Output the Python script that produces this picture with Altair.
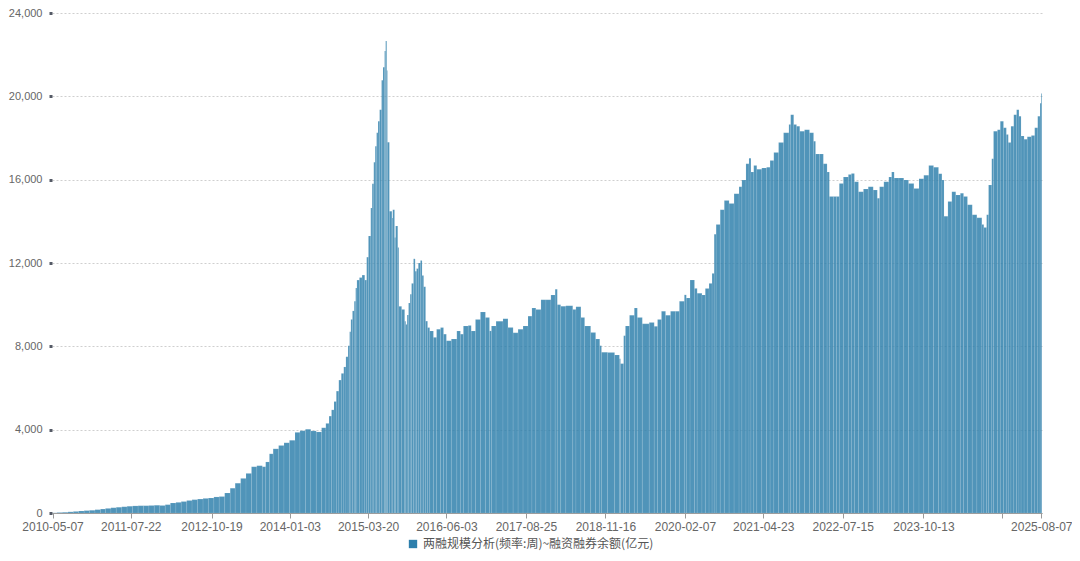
import altair as alt
import pandas as pd

# weekly margin balance (亿元); dates are the start of each bar
dates = [
    "2010-05-07", "2010-06-01", "2010-07-01", "2010-08-01", "2010-09-01", "2010-10-01",
    "2010-11-01", "2010-12-01", "2011-01-01", "2011-02-01", "2011-03-01", "2011-04-01",
    "2011-05-01", "2011-06-01", "2011-07-01", "2011-08-01", "2011-09-01", "2011-10-01",
    "2011-11-01", "2011-12-01", "2012-01-01", "2012-02-01", "2012-03-01", "2012-04-01",
    "2012-05-01", "2012-06-01", "2012-07-01", "2012-08-01", "2012-09-01", "2012-10-01",
    "2012-11-01", "2012-12-01", "2013-01-01", "2013-02-01", "2013-03-01", "2013-04-01",
    "2013-05-01", "2013-06-01", "2013-07-01", "2013-08-01", "2013-08-20", "2013-09-10",
    "2013-10-01", "2013-11-01", "2013-12-01", "2014-01-01", "2014-02-01", "2014-03-01",
    "2014-04-01", "2014-05-01", "2014-06-01", "2014-07-01", "2014-07-25", "2014-08-12",
    "2014-08-26", "2014-09-09", "2014-09-22", "2014-10-06", "2014-10-20", "2014-11-03",
    "2014-11-15", "2014-11-27", "2014-12-06", "2014-12-13", "2014-12-22", "2015-01-01",
    "2015-01-09", "2015-01-16", "2015-01-30", "2015-02-14", "2015-03-01", "2015-03-12",
    "2015-03-22", "2015-04-04", "2015-04-12", "2015-04-21", "2015-04-29", "2015-05-07",
    "2015-05-15", "2015-05-24", "2015-06-04", "2015-06-12", "2015-06-21", "2015-06-27",
    "2015-07-03", "2015-07-07", "2015-07-18", "2015-08-01", "2015-08-06", "2015-08-16",
    "2015-08-22", "2015-09-03", "2015-09-09", "2015-09-25", "2015-10-12", "2015-10-18",
    "2015-10-26", "2015-11-03", "2015-11-12", "2015-11-20", "2015-12-01", "2015-12-10",
    "2015-12-18", "2015-12-28", "2016-01-09", "2016-01-18", "2016-01-27", "2016-02-07",
    "2016-02-18", "2016-03-01", "2016-03-22", "2016-04-09", "2016-05-01", "2016-05-18",
    "2016-06-03", "2016-07-01", "2016-08-01", "2016-08-21", "2016-09-07", "2016-10-04",
    "2016-10-21", "2016-11-14", "2016-12-12", "2017-01-09", "2017-02-01", "2017-02-12",
    "2017-03-10", "2017-04-18", "2017-05-16", "2017-06-14", "2017-07-12", "2017-08-09",
    "2017-09-06", "2017-09-28", "2017-10-20", "2017-11-18", "2017-12-16", "2018-01-13",
    "2018-02-06", "2018-02-18", "2018-03-09", "2018-04-07", "2018-05-16", "2018-06-03",
    "2018-07-01", "2018-07-22", "2018-08-25", "2018-09-22", "2018-10-15", "2018-10-25",
    "2018-11-28", "2019-01-07", "2019-02-03", "2019-02-09", "2019-02-27", "2019-03-09",
    "2019-04-01", "2019-04-28", "2019-05-15", "2019-06-12", "2019-07-21", "2019-08-18",
    "2019-09-06", "2019-09-28", "2019-10-21", "2019-11-18", "2019-12-16", "2020-01-07",
    "2020-02-04", "2020-02-15", "2020-03-07", "2020-04-01", "2020-04-16", "2020-05-13",
    "2020-06-01", "2020-06-22", "2020-07-09", "2020-07-21", "2020-08-01", "2020-08-24",
    "2020-09-16", "2020-10-13", "2020-11-10", "2020-12-08", "2020-12-24", "2021-01-16",
    "2021-02-02", "2021-02-13", "2021-03-01", "2021-03-18", "2021-04-15", "2021-05-12",
    "2021-06-01", "2021-06-22", "2021-07-19", "2021-08-16", "2021-09-15", "2021-09-25",
    "2021-10-12", "2021-10-28", "2021-11-15", "2021-12-12", "2022-01-09", "2022-02-01",
    "2022-02-12", "2022-03-06", "2022-03-28", "2022-04-18", "2022-05-01", "2022-05-24",
    "2022-06-10", "2022-06-26", "2022-07-19", "2022-08-16", "2022-09-02", "2022-09-19",
    "2022-10-12", "2022-11-09", "2022-12-06", "2023-01-03", "2023-01-26", "2023-02-08",
    "2023-03-04", "2023-04-01", "2023-04-17", "2023-05-01", "2023-05-28", "2023-06-24",
    "2023-07-21", "2023-08-20", "2023-09-18", "2023-10-15", "2023-11-12", "2023-12-09",
    "2024-01-06", "2024-01-25", "2024-02-06", "2024-02-28", "2024-03-21", "2024-04-12",
    "2024-05-08", "2024-05-26", "2024-06-17", "2024-07-14", "2024-08-09", "2024-09-06",
    "2024-09-17", "2024-10-03", "2024-10-14", "2024-11-01", "2024-11-11", "2024-12-03",
    "2024-12-19", "2025-01-06", "2025-01-22", "2025-02-02", "2025-02-17", "2025-03-05",
    "2025-03-21", "2025-04-03", "2025-04-15", "2025-05-02", "2025-05-20", "2025-06-12",
    "2025-07-01", "2025-07-18", "2025-07-31", "2025-08-07",
]

balance = [
    8, 20, 35, 55, 75, 95,
    115, 130, 160, 190, 220, 250,
    280, 300, 320, 340, 350, 350,
    360, 370, 360, 400, 480, 510,
    550, 600, 640, 670, 700, 720,
    770, 790, 960, 1190, 1430, 1660,
    1900, 2220, 2270, 2220, 2450, 2840,
    3080, 3240, 3370, 3490, 3870, 3950,
    4020, 3940, 3890, 4090, 4300, 4650,
    4950, 5350, 5850, 6380, 6700, 7010,
    7500, 8030, 8700, 9290, 9700, 10160,
    10800, 11180, 11300, 11420, 11180, 12280,
    13300, 14640, 15800, 16840, 17600, 18250,
    18800, 19360, 20770, 21400, 22180, 22660,
    21240, 17800, 14480, 14160, 14560, 13230,
    13780, 12750, 9920, 9770, 9210, 9050,
    9500, 10080, 10500, 11020, 12200, 11600,
    11730, 12000, 12120, 11400, 10860, 9210,
    8900, 8740, 8430, 8820, 8900, 8585,
    8270, 8350, 8740, 8585, 8980, 9000,
    8740, 9290, 9650, 9380, 8740, 8980,
    9210, 9330, 8900, 8650, 8820, 8980,
    9450, 9840, 9770, 10240, 10240, 10470,
    10740, 10000, 9920, 9950, 9770, 9900,
    9380, 8980, 8660, 8350, 8030, 7720,
    7700, 7590, 7400, 7170, 8510, 8980,
    9490, 9840, 9380, 9080, 9140, 8960,
    9290, 9680, 9490, 9680, 9680, 10160,
    10470, 10320, 11180, 10780, 10550, 10470,
    10780, 11020, 11500, 13380, 13850, 14560,
    15000, 14860, 15330, 15660, 15980, 16760,
    17030, 16370, 16680, 16500, 16560, 16600,
    16920, 17310, 17780, 18250, 18650, 19120,
    18650, 18570, 18330, 18400, 18250, 17850,
    17230, 17230, 16760, 16370, 15190, 15190,
    15190, 15820, 16130, 16250, 16300, 15900,
    15420, 15550, 15660, 15500, 15110, 15660,
    15900, 16130, 16370, 16080, 16080, 15980,
    15820, 15580, 16050, 16210, 16680, 16600,
    16290, 15980, 14250, 14950, 15420, 15270,
    15350, 15190, 14800, 14320, 14170, 13850,
    13700, 14320, 15740, 17000, 18330, 18400,
    18800, 18490, 18170, 17780, 18570, 19120,
    19360, 19050, 18100, 17940, 18060, 18120,
    18490, 19050, 19670, 20140,
]

axis_start = "2010-05-04"
period_end = "2025-08-11"
x_tick_dates = [
    "2010-05-07", "2011-07-22", "2012-10-19", "2014-01-03", "2015-03-20",
    "2016-06-03", "2017-08-25", "2018-11-16", "2020-02-07", "2021-04-23",
    "2022-07-15", "2023-10-13", "2024-12-27", "2025-08-07",
]
hidden_tick_labels = ["2024-12-27"]
y_ticks = [0, 4000, 8000, 12000, 16000, 20000, 24000]
series_name = "两融规模分析(频率:周)~融资融券余额(亿元)"


def dt(s):
    y, m, d = (int(p) for p in s.split("-"))
    return alt.DateTime(year=y, month=m, date=d)


df = pd.DataFrame({"date": pd.to_datetime(dates), "value": balance})
df["end"] = df["date"].shift(-1).fillna(pd.Timestamp(period_end))
df["series"] = series_name

cond = " || ".join(f"datum.label == '{s}'" for s in hidden_tick_labels)
label_expr = f"({cond}) ? '' : datum.label"

chart = (
    alt.Chart(df)
    .mark_bar(opacity=0.83, stroke="#ffffff", strokeWidth=0.4, strokeOpacity=0.25)
    .encode(
        x=alt.X(
            "date:T",
            scale=alt.Scale(domain=[dt(axis_start), dt(period_end)]),
            axis=alt.Axis(
                values=[dt(s) for s in x_tick_dates],
                format="%Y-%m-%d",
                labelExpr=label_expr,
                labelFlush=False,
                labelOverlap=False,
                grid=False,
                domainColor="#9a9a9a",
                tickColor="#9a9a9a",
                tickSize=5,
                labelColor="#666666",
                labelFontSize=12,
                labelFont="Liberation Sans",
                labelPadding=3,
                title=None,
            ),
        ),
        x2="end:T",
        y=alt.Y(
            "value:Q",
            scale=alt.Scale(domain=[0, 24000], nice=False),
            axis=alt.Axis(
                values=y_ticks,
                format=",d",
                grid=True,
                gridDash=[2, 2],
                gridColor="#cfcfcf",
                domain=False,
                tickSize=3,
                tickWidth=3,
                tickColor="#555a66",
                labelPadding=7,
                labelColor="#666666",
                labelFontSize=11,
                labelFont="Liberation Sans",
                title=None,
            ),
        ),
        y2=alt.datum(0),
        color=alt.Color(
            "series:N",
            scale=alt.Scale(range=["#2d7fac"]),
            legend=alt.Legend(
                orient="none",
                legendX=355,
                legendY=525,
                direction="horizontal",
                title=None,
                symbolType="square",
                symbolSize=70,
                symbolStrokeWidth=0,
                symbolOpacity=1,
                labelFontSize=12,
                labelColor="#555555",
                labelFont="Noto Sans CJK SC",
                labelLimit=400,
            ),
        ),
    )
    .properties(
        width=990,
        height=500,
        autosize=alt.AutoSizeParams(type="none"),
        padding={"left": 44, "top": 5, "right": 30, "bottom": 40},
    )
    .configure_view(strokeWidth=0)
)

chart.save("out.html", embed_options={"renderer": "svg", "actions": False})
